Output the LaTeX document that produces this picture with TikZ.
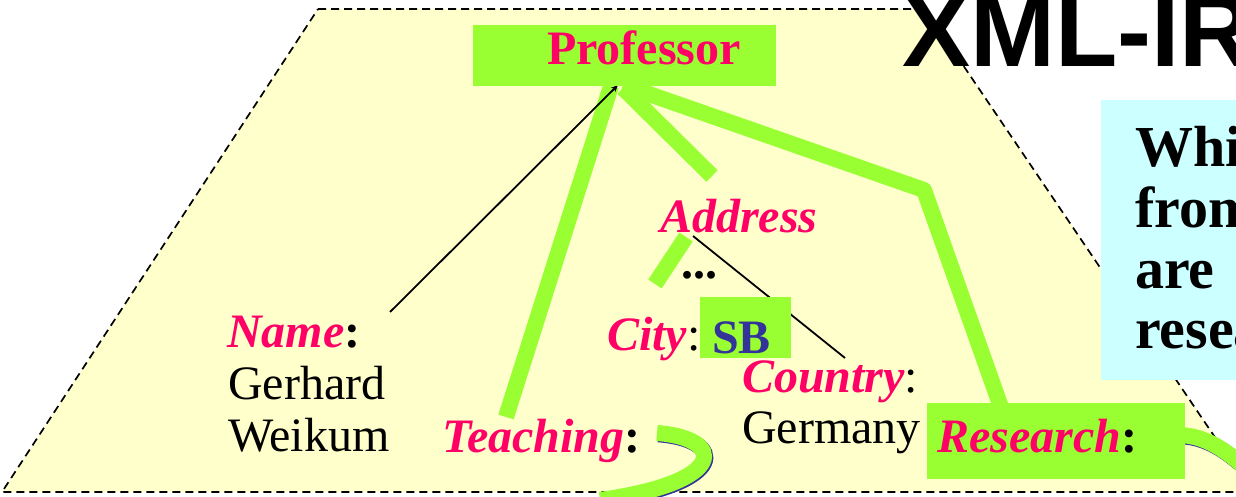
\documentclass[tikz,border=0pt]{standalone}
\usepackage{fontspec}
\setmainfont{Liberation Serif}
\setsansfont{Liberation Sans}
\usetikzlibrary{arrows.meta}

\definecolor{paper}{HTML}{FFFFCC}
\definecolor{leaf}{HTML}{99FF33}
\definecolor{tagred}{HTML}{FF0066}
\definecolor{sbblue}{HTML}{333399}
\definecolor{qcyan}{HTML}{CCFFFF}

% element names: bold italic, red
\newcommand{\elname}[1]{\textcolor{tagred}{\bfseries\itshape #1}}

\tikzset{
  lbl/.style={inner sep=0pt, anchor=base west, font=\fontsize{48}{56}\selectfont},
  qline/.style={inner sep=0pt, anchor=base west, font=\bfseries\fontsize{58}{60}\selectfont},
  greenbox/.style={fill=leaf, draw=none},
  treeedge/.style={draw=black, line width=1.8pt},
  hiedge/.style={draw=leaf, line width=16pt},
  hishadow/.style={draw=sbblue, line width=16pt},
  border/.style={draw=black, line width=1.7pt, dash pattern=on 8pt off 5pt},
}

\begin{document}
\begin{tikzpicture}[x=1pt, y=-1pt]
  \useasboundingbox (0,0) rectangle (1236,497);
  \clip (0,0) rectangle (1236,497);
  \fill[white] (0,0) rectangle (1236,497);

  % document region
  \filldraw[fill=paper, border] (318,9) -- (925,9) -- (1252,492) -- (2,492) -- cycle;

  % anchor points of the edges
  \coordinate (apex) at (618,85);
  \coordinate (nameend) at (390,312);
  \coordinate (teachend) at (506,417);
  \coordinate (addrend) at (712,176);
  \coordinate (bend) at (924,190);
  \coordinate (resend) at (1002,410);
  \coordinate (addrtop) at (693,236);
  \coordinate (countryend) at (845,358);
  \coordinate (subtop) at (686,237);
  \coordinate (subend) at (655,284);
  \coordinate (teachstart) at (657,433);
  \coordinate (teachout) at (600,500);
  \coordinate (resstart) at (1180,435);
  \coordinate (resout) at (1250,472);

  % highlighted result paths
  \draw[hiedge, line cap=butt] (apex) ++(-7,1) -- (teachend);
  \draw[hiedge, line cap=butt] (apex) ++(5,3) -- (addrend);
  \draw[hiedge, line join=round] (apex) ++(5,0) -- (bend) -- (resend);
  \draw[hiedge, line cap=butt] (subtop) -- (subend);
  \draw[hishadow] (teachstart) ++(1.3,1.3) .. controls (726.3,439.3) and (731.3,483.3) .. (601.3,501.3);
  \draw[hiedge] (teachstart) .. controls (725,438) and (730,482) .. (teachout);
  \draw[hishadow] (resstart) ++(1.3,1.3) .. controls (1206.3,437.3) and (1226.3,450.3) .. (1251.3,473.3);
  \draw[hiedge] (resstart) .. controls (1205,436) and (1225,449) .. (resout);

  % plain tree edges
  \draw[treeedge, -{Stealth[length=7pt, width=6pt]}] (nameend) -- (apex);
  \draw[treeedge] (addrtop) -- (countryend);

  % boxes
  \node[greenbox, inner sep=0pt, minimum width=303pt, minimum height=61pt] (profbox) at (624.5,55.5) {};
  \node[greenbox, inner sep=0pt, minimum width=91pt, minimum height=61pt] (sbbox) at (745.5,327.5) {};
  \node[greenbox, inner sep=0pt, minimum width=258pt, minimum height=76pt] (resbox) at (1056,441) {};

  % labels
  \node[lbl] (professor) at (547,65) {\textcolor{tagred}{\bfseries Professor}};
  \node[lbl] (name) at (227,347) {\elname{Name}\textbf{:}};
  \node[lbl] (gerhard) at (228,399) {Gerhard};
  \node[lbl] (weikum) at (228,451) {Weikum};
  \node[lbl] (teaching) at (442,452) {\elname{Teaching}\textbf{:}};
  \node[lbl] (address) at (660,233) {\elname{Address}};
  \node[lbl] (dots) at (681,278) {\textbf{...}};
  \node[lbl] (city) at (607,350) {\elname{City}:};
  \node[lbl, text=sbblue] (sb) at (712,353) {\textbf{SB}};
  \node[lbl] (country) at (742,392) {\elname{Country}:};
  \node[lbl] (germany) at (742,443) {Germany};
  \node[lbl] (research) at (937,452) {\elname{Research}\textbf{:}};

  % query box
  \fill[qcyan] (1101,100) rectangle (1300,380);
  \node[qline] (q1) at (1135,167) {Which};
  \node[qline] (q2) at (1135,227) {from};
  \node[qline] (q3) at (1135,288) {are};
  \node[qline] (q4) at (1135,348) {research};

  % title
  \node[inner sep=0pt, anchor=base west, font=\sffamily\bfseries\fontsize{102}{110}\selectfont] (title) at (902,67) {XML-IR};
\end{tikzpicture}
\end{document}
